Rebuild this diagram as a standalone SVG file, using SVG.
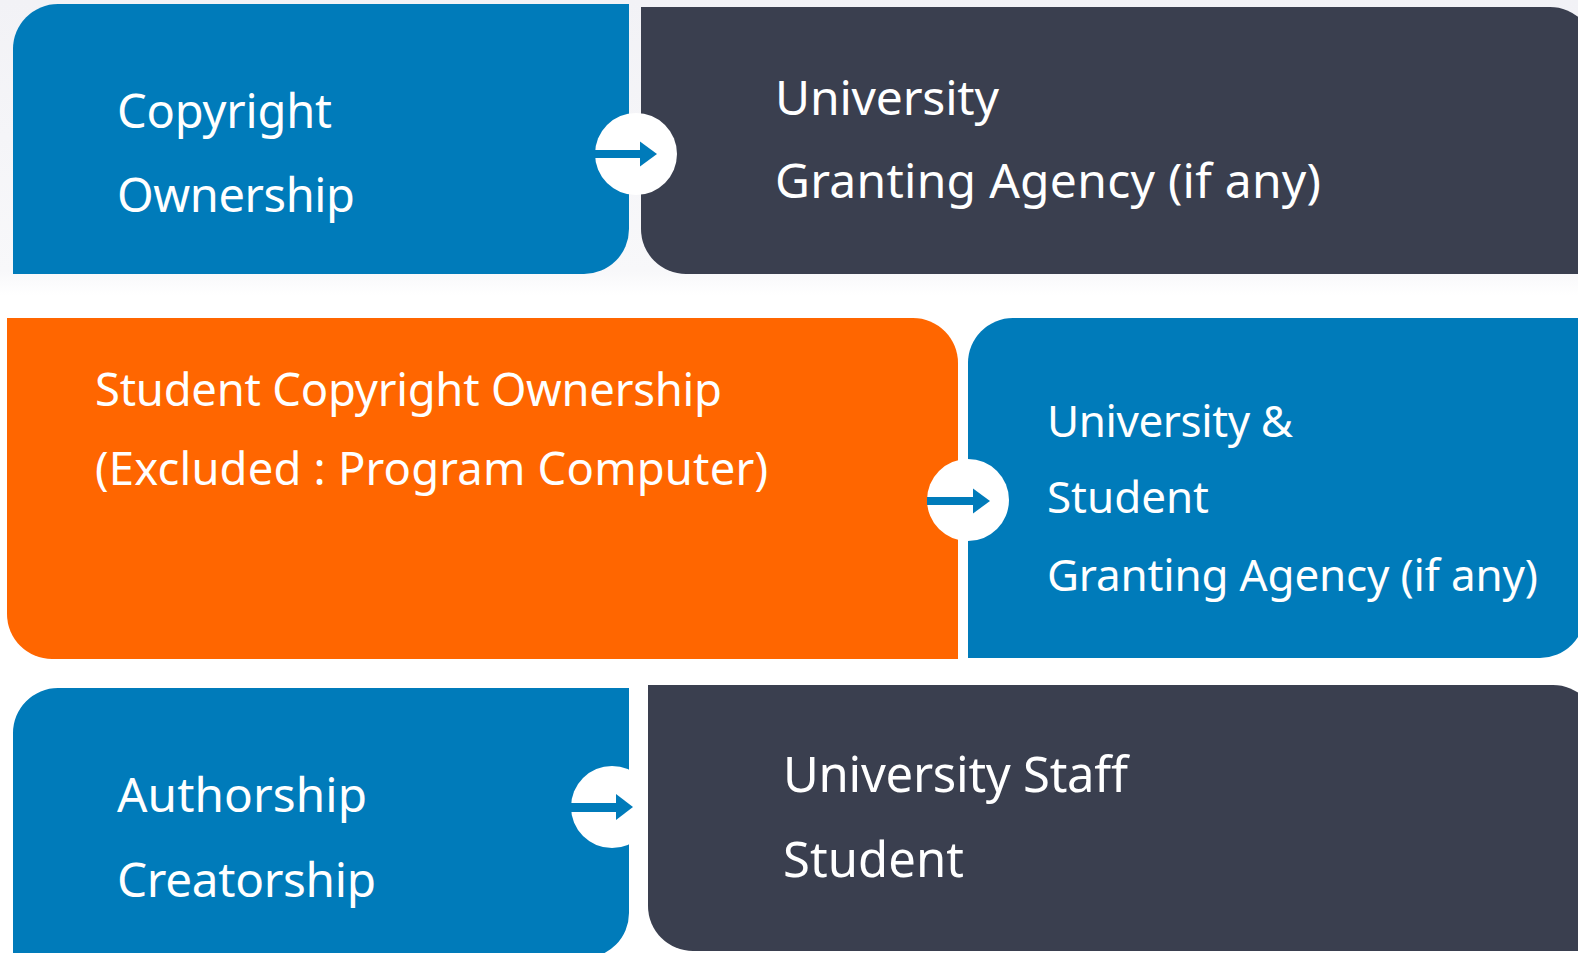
<svg xmlns="http://www.w3.org/2000/svg" width="1578" height="953" viewBox="0 0 1578 953">
  <defs>
    <linearGradient id="bg" x1="0" y1="0" x2="0" y2="953" gradientUnits="userSpaceOnUse">
      <stop offset="0" stop-color="#f2f2f6"/>
      <stop offset="0.285" stop-color="#f8f8fa"/>
      <stop offset="0.31" stop-color="#ffffff"/>
      <stop offset="1" stop-color="#ffffff"/>
    </linearGradient>
  </defs>
  <style>
    .blue { fill: #007bba; }
    .dark { fill: #3a3f4f; }
    .orange { fill: #ff6600; }
    .lbl { font-family: "Noto Sans", "Open Sans", sans-serif; fill: #ffffff; }
    .s1l { font-size: 47px; }
    .s1r { font-size: 48px; }
    .s2l { font-size: 45.4px; }
    .s2r { font-size: 44px; }
    .s3l { font-size: 47.7px; }
    .s3r { font-size: 49px; }
    .circ { fill: #ffffff; }
    .arr { fill: #007bba; }
  </style>
  <rect x="0" y="0" width="1578" height="953" fill="url(#bg)"/>

  <g id="node-copyright-ownership">
    <path class="blue" d="M13,274 L13,49 A45,45 0 0 1 58,4 L629,4 L629,229 A45,45 0 0 1 584,274 Z"/>
    <text class="lbl s1l" x="117" y="128" textLength="215">Copyright</text>
    <text class="lbl s1l" x="117" y="212" textLength="238">Ownership</text>
  </g>

  <g id="node-university-granting">
    <path class="dark" d="M641,7 L1550,7 A45,45 0 0 1 1595,52 L1595,274 L686,274 A45,45 0 0 1 641,229 Z"/>
    <text class="lbl s1r" x="775" y="115" textLength="224">University</text>
    <text class="lbl s1r" x="775" y="198" textLength="546">Granting Agency (if any)</text>
  </g>

  <g id="node-student-copyright">
    <path class="orange" d="M7,318 L913,318 A45,45 0 0 1 958,363 L958,659 L52,659 A45,45 0 0 1 7,614 Z"/>
    <text class="lbl s2l" x="95" y="406" textLength="627">Student Copyright Ownership</text>
    <text class="lbl s2l" x="95" y="485" textLength="673">(Excluded : Program Computer)</text>
  </g>

  <g id="node-university-student">
    <path class="blue" d="M968,658 L968,363 A45,45 0 0 1 1013,318 L1585,318 L1585,613 A45,45 0 0 1 1540,658 Z"/>
    <text class="lbl s2r" x="1047" y="437" textLength="246">University &amp;</text>
    <text class="lbl s2r" x="1047" y="513" textLength="162">Student</text>
    <text class="lbl s2r" x="1047" y="591" textLength="491">Granting Agency (if any)</text>
  </g>

  <g id="node-authorship">
    <path class="blue" d="M13,970 L13,733 A45,45 0 0 1 58,688 L629,688 L629,913 A45,45 0 0 1 584,958 L13,958 Z"/>
    <text class="lbl s3l" x="117" y="812" textLength="250">Authorship</text>
    <text class="lbl s3l" x="117" y="897" textLength="259">Creatorship</text>
  </g>

  <g id="connectors">
    <g id="arrow-1">
      <circle class="circ" cx="636" cy="154" r="41"/>
      <rect class="arr" x="595" y="150" width="46" height="8"/>
      <polygon class="arr" points="640,141.5 657,154 640,166.5"/>
    </g>
    <g id="arrow-2">
      <circle class="circ" cx="968" cy="500" r="41"/>
      <rect class="arr" x="927" y="497" width="47" height="8"/>
      <polygon class="arr" points="973,488.5 990,501 973,513.5"/>
    </g>
    <g id="arrow-3">
      <circle class="circ" cx="612" cy="807" r="41"/>
      <rect class="arr" x="571" y="803" width="46" height="9"/>
      <polygon class="arr" points="616,794 633,807 616,820"/>
    </g>
  </g>

  <g id="node-staff-student">
    <path class="dark" d="M648,685 L1553,685 A45,45 0 0 1 1598,730 L1598,951 L693,951 A45,45 0 0 1 648,906 Z"/>
    <text class="lbl s3r" x="783" y="792" textLength="345">University Staff</text>
    <text class="lbl s3r" x="783" y="877" textLength="181">Student</text>
  </g>
</svg>
